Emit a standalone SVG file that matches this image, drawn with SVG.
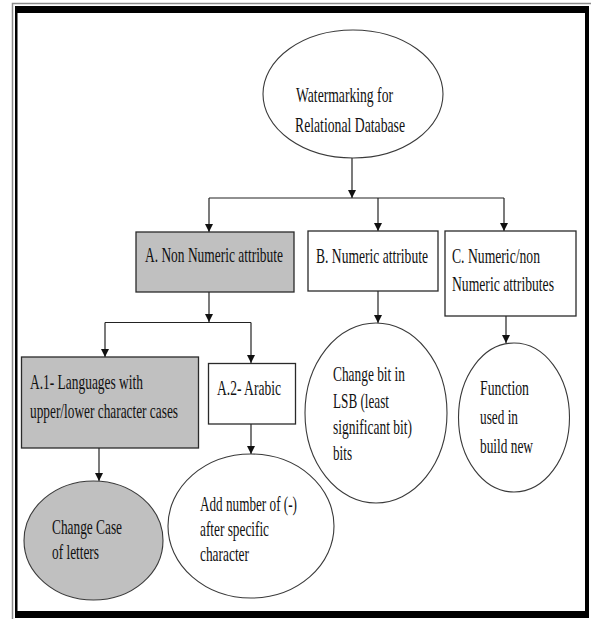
<svg xmlns="http://www.w3.org/2000/svg" width="591" height="619" viewBox="0 0 591 619">
<style>
text{font-family:"Liberation Serif","Times New Roman",serif;font-size:22px;fill:#111}
.box{stroke:#2a2a2a;stroke-width:1.3}
.white{fill:#fff}
.gray{fill:#c0c0c0}
.ell{stroke:#3a3a3a;stroke-width:1.1}
.con{stroke:#222;stroke-width:1.2;fill:none}
</style>
<defs>
<marker id="ah" viewBox="0 0 10 10" refX="10" refY="5" markerWidth="8" markerHeight="10" markerUnits="userSpaceOnUse" orient="auto">
<path d="M0,0 L10,5 L0,10 Z" fill="#111"/>
</marker>
</defs>
<rect width="591" height="619" fill="#fff"/>
<g id="frame">
<path d="M12.5,619 V3.5 H591" fill="none" stroke="#8a8a8a" stroke-width="1.5"/>
<rect x="15" y="6" width="574" height="7" fill="#000"/>
<rect x="15" y="6" width="2.5" height="612" fill="#000"/>
<rect x="585" y="6" width="4" height="612" fill="#000"/>
<rect x="15" y="611" width="574" height="7" fill="#000"/>
</g>
<g id="connectors">
<path class="con" d="M352,158 V198" marker-end="url(#ah)"/>
<path class="con" d="M209,198 H504"/>
<path class="con" d="M209,198 V232" marker-end="url(#ah)"/>
<path class="con" d="M378,198 V231" marker-end="url(#ah)"/>
<path class="con" d="M504,198 V231" marker-end="url(#ah)"/>
<path class="con" d="M209,292 V322" marker-end="url(#ah)"/>
<path class="con" d="M105,322.5 H251"/>
<path class="con" d="M105,322.5 V357" marker-end="url(#ah)"/>
<path class="con" d="M251,322.5 V363" marker-end="url(#ah)"/>
<path class="con" d="M99,448 V481" marker-end="url(#ah)"/>
<path class="con" d="M251,424 V454" marker-end="url(#ah)"/>
<path class="con" d="M378,291 V323" marker-end="url(#ah)"/>
<path class="con" d="M506,316 V343" marker-end="url(#ah)"/>
</g>
<g id="root">
<ellipse class="ell white" cx="353" cy="94" rx="90" ry="64"/>
<text x="296" y="102" textLength="97" lengthAdjust="spacingAndGlyphs">Watermarking for</text>
<text x="295" y="132" textLength="110" lengthAdjust="spacingAndGlyphs">Relational Database</text>
</g>
<g id="nodeA">
<rect class="box gray" x="136" y="232" width="158" height="60"/>
<text x="145" y="262" textLength="138" lengthAdjust="spacingAndGlyphs">A. Non Numeric attribute</text>
</g>
<g id="nodeB">
<rect class="box white" x="308" y="231" width="130" height="60"/>
<text x="316" y="263" textLength="112" lengthAdjust="spacingAndGlyphs">B. Numeric attribute</text>
</g>
<g id="nodeC">
<rect class="box white" x="445" y="231" width="131" height="85"/>
<text x="452" y="263" textLength="88" lengthAdjust="spacingAndGlyphs">C. Numeric/non</text>
<text x="452" y="291" textLength="102" lengthAdjust="spacingAndGlyphs">Numeric attributes</text>
</g>
<g id="nodeA1">
<rect class="box gray" x="21.5" y="357" width="177" height="91"/>
<text x="30" y="389" textLength="113" lengthAdjust="spacingAndGlyphs">A.1- Languages with</text>
<text x="30" y="418" textLength="148" lengthAdjust="spacingAndGlyphs">upper/lower character cases</text>
</g>
<g id="nodeA2">
<rect class="box white" x="208.5" y="363.5" width="87" height="60.5"/>
<text x="217" y="395" textLength="64" lengthAdjust="spacingAndGlyphs">A.2- Arabic</text>
</g>
<g id="leafLSB">
<ellipse class="ell white" cx="376" cy="413" rx="71" ry="90"/>
<text x="333" y="381" textLength="72" lengthAdjust="spacingAndGlyphs">Change bit in</text>
<text x="333" y="408" textLength="56" lengthAdjust="spacingAndGlyphs">LSB (least</text>
<text x="333" y="434" textLength="79" lengthAdjust="spacingAndGlyphs">significant bit)</text>
<text x="333" y="460" textLength="19" lengthAdjust="spacingAndGlyphs">bits</text>
</g>
<g id="leafFunction">
<ellipse class="ell white" cx="514" cy="417.5" rx="55.5" ry="74.5"/>
<text x="480" y="395" textLength="49" lengthAdjust="spacingAndGlyphs">Function</text>
<text x="480" y="424" textLength="38" lengthAdjust="spacingAndGlyphs">used in</text>
<text x="480" y="453" textLength="53" lengthAdjust="spacingAndGlyphs">build new</text>
</g>
<g id="leafCase">
<ellipse class="ell gray" cx="93.5" cy="540.5" rx="69.5" ry="59.5"/>
<text x="52" y="534" textLength="70" lengthAdjust="spacingAndGlyphs">Change Case</text>
<text x="52" y="559" textLength="47" lengthAdjust="spacingAndGlyphs">of letters</text>
</g>
<g id="leafArabic">
<ellipse class="ell white" cx="251" cy="526" rx="83" ry="72"/>
<text x="200" y="511" textLength="97" lengthAdjust="spacingAndGlyphs">Add number of (-)</text>
<text x="200" y="536" textLength="69" lengthAdjust="spacingAndGlyphs">after specific</text>
<text x="200" y="561" textLength="49" lengthAdjust="spacingAndGlyphs">character</text>
</g>
</svg>
